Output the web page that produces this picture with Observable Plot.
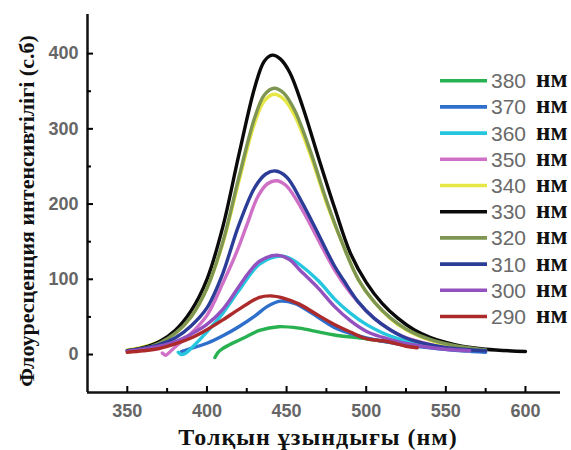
<!DOCTYPE html>
<html><head><meta charset="utf-8">
<script src="https://cdn.jsdelivr.net/npm/d3@7"></script>
<script src="https://cdn.jsdelivr.net/npm/@observablehq/plot@0.6"></script>
<style>
body{margin:0;background:#fff}
#wrap{position:relative;width:571px;height:450px;overflow:hidden}
#legend{position:absolute;left:0;top:0}
</style>
</head><body><div id="wrap"></div>
<script>
// excitation wavelengths (legend order) and colours
const excitation = ["380", "370", "360", "350", "340", "330", "320", "310", "300", "290"];
const colours = ["#27b150", "#2d6fcb", "#25c6de", "#cf6fc6", "#e6e644", "#0a0a0a", "#7e9652", "#2c3d98", "#9251bf", "#ad2a2a"];

// emission wavelength (nm) / intensity (a.u.)
const nm380 = [405, 407, 410, 416, 425, 433, 445, 458, 470, 480, 500, 520, 540, 560];
const v380  = [-4, 3, 8, 15, 24, 32, 37, 35, 30, 26, 21, 15, 10, 6];
const nm370 = [384, 390, 400, 410, 420, 430, 438, 446, 455, 465, 480, 490, 500, 520, 540, 560, 575];
const v370  = [4, 8, 15, 25, 37, 51, 64, 71, 68, 56, 36, 28, 22, 14, 9, 5, 3];
const nm360 = [382, 384, 386, 390, 400, 410, 420, 433, 446, 452, 458, 470, 480, 490, 500, 510, 520, 535, 550, 565];
const v360  = [3, 0, 1, 8, 30, 55, 85, 120, 131, 128, 120, 98, 74, 55, 40, 29, 21, 13, 8, 5];
const nm350 = [372, 374, 376, 380, 390, 400, 410, 419, 425, 432, 438, 444, 450, 460, 470, 480, 490, 500, 510, 520, 535, 550, 565];
const v350  = [2, -1, 2, 10, 28, 52, 95, 138, 172, 210, 227, 231, 224, 192, 152, 113, 82, 58, 40, 27, 16, 9, 5];
const nm340 = [350, 360, 370, 380, 390, 400, 410, 420, 430, 436, 442, 448, 455, 465, 475, 485, 495, 505, 515, 525, 540, 555, 570];
const v340  = [6, 10, 17, 28, 50, 88, 148, 230, 308, 337, 346, 340, 318, 265, 202, 148, 100, 70, 48, 33, 19, 11, 6];
const nm330 = [350, 360, 370, 380, 390, 400, 410, 420, 430, 436, 441, 446, 452, 460, 470, 480, 490, 500, 510, 520, 530, 540, 550, 560, 575, 600];
const v330  = [5, 9, 17, 32, 58, 100, 170, 265, 355, 390, 398, 393, 375, 330, 262, 196, 135, 96, 68, 48, 33, 23, 16, 11, 7, 4];
const nm320 = [350, 360, 370, 380, 390, 400, 410, 420, 430, 436, 442, 448, 455, 465, 475, 485, 495, 505, 515, 525, 540, 555, 575];
const v320  = [5, 8, 15, 28, 50, 88, 150, 235, 315, 345, 354, 348, 325, 270, 205, 148, 100, 70, 49, 34, 20, 12, 6];
const nm310 = [350, 360, 370, 380, 390, 400, 410, 415, 420, 430, 437, 443, 450, 459, 470, 480, 486, 495, 505, 515, 525, 540, 555, 575];
const v310  = [5, 8, 13, 22, 38, 62, 108, 140, 172, 222, 240, 244, 236, 205, 160, 118, 98, 70, 48, 33, 22, 13, 8, 5];
const nm300 = [350, 360, 370, 380, 390, 400, 410, 420, 426, 433, 444, 452, 458, 470, 480, 490, 500, 510, 520, 535, 550, 565];
const v300  = [4, 7, 11, 17, 27, 40, 60, 90, 108, 124, 132, 126, 113, 88, 64, 45, 31, 23, 17, 11, 7, 5];
const nm290 = [350, 360, 370, 380, 390, 400, 410, 420, 433, 440, 448, 458, 470, 480, 490, 500, 514, 525, 532];
const v290  = [3, 5, 8, 14, 22, 33, 46, 60, 76, 78, 75, 67, 52, 40, 30, 21, 17, 11, 9];

const xTicks = [350, 400, 450, 500, 550, 600];
const xMinor = [375, 425, 475, 525, 575];
const yTicks = [0, 100, 200, 300, 400];
const yMinor = [50, 150, 250, 350];
const xTitle = "Толқын ұзындығы (нм)";
const yTitle = "Флоуресценция интенсивтілігі (с.б)";

const xs = [nm380, nm370, nm360, nm350, nm340, nm330, nm320, nm310, nm300, nm290];
const vs = [v380, v370, v360, v350, v340, v330, v320, v310, v300, v290];
const table = excitation.flatMap((s, i) => xs[i].map((w, j) => ({series: s, nm: w, value: vs[i][j]})));

const tickFont = {fontSize: 18, fill: "#666", fontWeight: "bold", fontFamily: "Liberation Sans, Arial, sans-serif"};
const serif = "Liberation Serif, Times New Roman, serif";

const chart = Plot.plot({
  width: 571,
  height: 450,
  marginLeft: 87,
  marginRight: 11,
  marginTop: 14,
  marginBottom: 58,
  style: {background: "#fff", fontFamily: "Liberation Sans, Arial, sans-serif", overflow: "visible"},
  x: {domain: [325, 622]},
  y: {domain: [-50.5, 452]},
  color: {domain: excitation, range: colours},
  marks: [
    ...excitation.map(s => Plot.line(table.filter(d => d.series === s), {
      x: "nm", y: "value", stroke: "series", strokeWidth: 3.4, curve: "catmull-rom"
    })),
    Plot.ruleX([325], {stroke: "#111", strokeWidth: 2.5}),
    Plot.ruleY([-50.5], {stroke: "#111", strokeWidth: 2.5}),
    Plot.axisX(xTicks, {anchor: "bottom", tickSize: -6, tickPadding: 18, strokeWidth: 2, label: null, ...tickFont}),
    Plot.axisX(xMinor, {anchor: "bottom", tickSize: -4, strokeWidth: 2, label: null, tickFormat: () => ""}),
    Plot.axisY(yTicks, {anchor: "left", tickSize: -6, tickPadding: 15, strokeWidth: 2, label: null, ...tickFont}),
    Plot.axisY(yMinor, {anchor: "left", tickSize: -4, strokeWidth: 2, label: null, tickFormat: () => ""}),
    Plot.text([xTitle], {frameAnchor: "bottom", textAnchor: "middle", dx: -6, dy: 45, lineAnchor: "middle",
      fontSize: 24, fontWeight: "bold", fill: "#111", fontFamily: serif}),
    Plot.text([yTitle], {frameAnchor: "left", textAnchor: "middle", dx: -61, dy: 7.5, rotate: -90, lineAnchor: "middle",
      fontSize: 22, fontWeight: "bold", fill: "#111", fontFamily: serif})
  ]
});
const wrap = document.getElementById("wrap");
wrap.appendChild(chart);
d3.select(chart).selectAll("text").filter(function() { return this.textContent === xTitle; })
  .style("letter-spacing", "1px");

// legend overlay
const lg = d3.select(wrap).append("svg").attr("id", "legend").attr("width", 571).attr("height", 450);
const rows = lg.selectAll("g").data(excitation).join("g")
  .attr("transform", (d, i) => `translate(0,${80.7 + i * 26.2})`);
rows.append("line").attr("x1", 440).attr("x2", 487).attr("y1", 0).attr("y2", 0)
  .attr("stroke", (d, i) => colours[i]).attr("stroke-width", 3.6);
rows.append("text").attr("x", 491).attr("y", 7.5).text(d => d)
  .attr("font-family", "Liberation Sans, Arial, sans-serif").attr("font-size", 21).attr("fill", "#6a6a6a");
rows.append("text").attr("x", 536).attr("y", 6.5).text("нм")
  .attr("font-family", serif).attr("font-weight", "bold").attr("font-size", 25).attr("fill", "#111");
</script>
</body></html>
